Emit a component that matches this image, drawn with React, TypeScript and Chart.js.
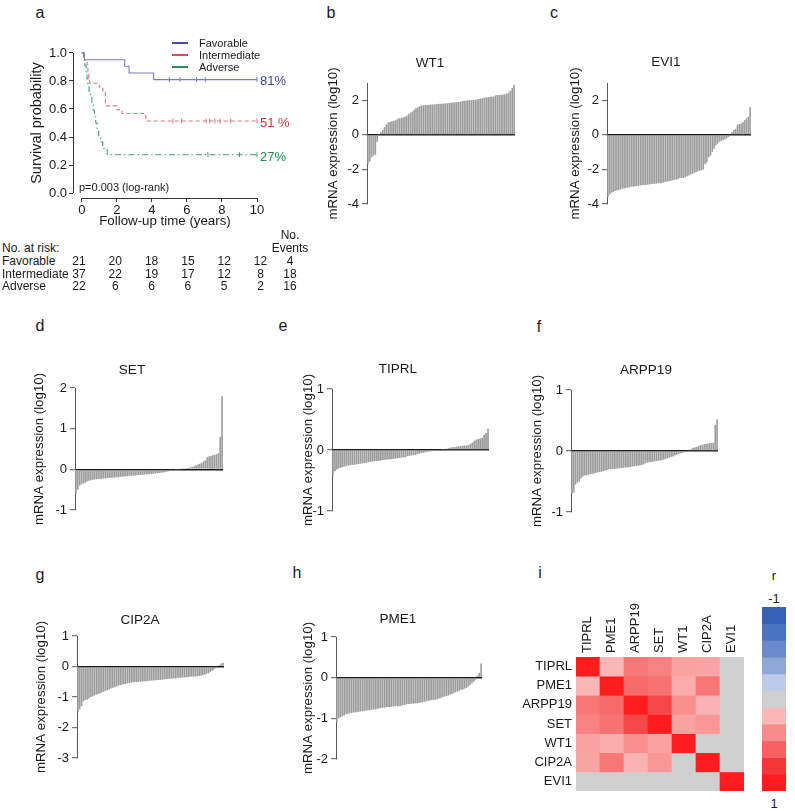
import React, { useEffect, useRef } from "react";
import { Chart, registerables } from "chart.js";
Chart.register(...registerables);

const FONT = "'Liberation Sans', Arial, Helvetica, sans-serif";

// ---------------- Panel a: Kaplan-Meier ----------------
const kmGroups = ["Favorable", "Intermediate", "Adverse"];
const favTimes = [0, 0.15, 2.45, 2.7, 4.1, 10];
const favSurv = [1, 0.952, 0.905, 0.857, 0.81, 0.81];
const favCensor = [5.0, 5.6, 6.55, 7.05, 10];
const intTimes = [0, 0.15, 0.3, 0.35, 0.4, 0.45, 1.0, 1.2, 1.35, 2.0, 2.3, 3.65, 10];
const intSurv = [1, 0.946, 0.919, 0.865, 0.811, 0.784, 0.757, 0.73, 0.622, 0.595, 0.568, 0.514, 0.514];
const intCensor = [5.2, 5.7, 7.1, 7.3, 7.6, 7.9, 8.5, 10];
const advTimes = [0, 0.1, 0.18, 0.25, 0.3, 0.35, 0.42, 0.5, 0.58, 0.65, 0.72, 0.8, 0.88, 0.97, 1.08, 1.2, 1.45, 10];
const advSurv = [1, 0.955, 0.909, 0.864, 0.818, 0.773, 0.727, 0.682, 0.636, 0.591, 0.545, 0.5, 0.455, 0.409, 0.364, 0.318, 0.273, 0.273];
const advCensor = [7.2, 9.0, 10];
const kmPercents = ["81%", "51 %", "27%"];
const kmYears = [0, 2, 4, 6, 8, 10];
const kmYTicks = [0, 0.2, 0.4, 0.6, 0.8, 1.0];
const atRiskFav = [21, 20, 18, 15, 12, 12];
const atRiskInt = [37, 22, 19, 17, 12, 8];
const atRiskAdv = [22, 6, 6, 6, 5, 2];
const eventsN = [4, 18, 16];

// ---------------- Panels b-h: sorted expression ----------------
const wt1Values = [
  -1.7, -1.55, -1.3, -1.2, -1.15, -0.4,
  0.05, 0.15, 0.3, 0.45, 0.6, 0.72,
  0.75, 0.78, 0.8, 0.85, 0.93, 0.96, 0.98, 1.0,
  1.05, 1.1, 1.2, 1.28, 1.35, 1.45, 1.55, 1.6, 1.65, 1.7,
  1.71, 1.72, 1.73, 1.74, 1.75, 1.76, 1.77, 1.78, 1.79, 1.8,
  1.8, 1.81, 1.82, 1.83, 1.85, 1.86, 1.87, 1.88, 1.89, 1.9,
  1.92, 1.95, 1.97, 1.98, 2.0, 2.0, 2.01, 2.02, 2.03, 2.05,
  2.07, 2.1, 2.12, 2.15, 2.17, 2.18, 2.2, 2.2, 2.22, 2.28,
  2.3, 2.31, 2.32, 2.33, 2.35, 2.38, 2.45, 2.55, 2.7, 2.9,
];
const evi1Values = [
  -3.6, -3.45, -3.35, -3.3, -3.25, -3.22, -3.2, -3.15, -3.12, -3.1,
  -3.08, -3.05, -3.03, -3.0, -3.0, -2.98, -2.97, -2.95, -2.93, -2.92,
  -2.9, -2.9, -2.88, -2.87, -2.85, -2.85, -2.83, -2.82, -2.8, -2.8,
  -2.78, -2.75, -2.72, -2.7, -2.68, -2.65, -2.62, -2.6, -2.58, -2.55,
  -2.5, -2.5, -2.48, -2.45, -2.4, -2.35, -2.3, -2.25, -2.2, -2.15,
  -2.1, -2.08, -2.05, -2.0, -1.7, -1.6, -1.3, -1.2, -1.0, -0.8,
  -0.6, -0.5, -0.4, -0.35, -0.3, -0.25, -0.2, -0.12, -0.05, 0.15,
  0.3, 0.35, 0.6, 0.62, 0.65, 0.75, 0.85, 0.95, 1.05, 1.6,
];
const setValues = [
  -0.6, -0.5, -0.4, -0.37, -0.35, -0.33, -0.3, -0.28, -0.27, -0.26,
  -0.25, -0.245, -0.24, -0.235, -0.23, -0.225, -0.22, -0.215, -0.21, -0.205,
  -0.2, -0.2, -0.195, -0.19, -0.185, -0.18, -0.175, -0.17, -0.165, -0.16,
  -0.16, -0.155, -0.15, -0.145, -0.14, -0.135, -0.13, -0.13, -0.125, -0.12,
  -0.115, -0.11, -0.105, -0.1, -0.095, -0.09, -0.085, -0.08, -0.07, -0.06,
  -0.05, -0.04, -0.03, -0.02, -0.01, -0.005, 0.0, 0.005, 0.01, 0.02,
  0.03, 0.04, 0.05, 0.06, 0.08, 0.1, 0.12, 0.14, 0.16, 0.2,
  0.22, 0.3, 0.32, 0.33, 0.35, 0.36, 0.37, 0.4, 0.8, 1.8,
];
const tiprlValues = [
  -0.42, -0.35, -0.32, -0.3, -0.29, -0.28, -0.27, -0.26, -0.255, -0.25,
  -0.245, -0.24, -0.235, -0.23, -0.225, -0.22, -0.215, -0.21, -0.2, -0.195,
  -0.19, -0.185, -0.18, -0.178, -0.175, -0.17, -0.165, -0.16, -0.155, -0.15,
  -0.15, -0.145, -0.14, -0.135, -0.13, -0.125, -0.12, -0.115, -0.1, -0.095,
  -0.09, -0.085, -0.08, -0.07, -0.06, -0.05, -0.045, -0.04, -0.03, -0.025,
  -0.02, -0.015, -0.01, -0.005, 0.0, 0.0, 0.005, 0.01, 0.02, 0.03,
  0.04, 0.045, 0.05, 0.055, 0.06, 0.065, 0.07, 0.072, 0.075, 0.08,
  0.1, 0.12, 0.15, 0.17, 0.18, 0.19, 0.2, 0.25, 0.28, 0.35,
];
const arpp19Values = [
  -0.7, -0.68, -0.55, -0.52, -0.5, -0.45, -0.42, -0.4, -0.4, -0.39,
  -0.38, -0.375, -0.37, -0.36, -0.35, -0.345, -0.34, -0.33, -0.32, -0.31,
  -0.3, -0.3, -0.295, -0.29, -0.29, -0.285, -0.28, -0.28, -0.275, -0.27,
  -0.27, -0.265, -0.26, -0.255, -0.25, -0.245, -0.24, -0.235, -0.23, -0.22,
  -0.2, -0.19, -0.185, -0.18, -0.175, -0.17, -0.165, -0.16, -0.155, -0.15,
  -0.14, -0.13, -0.12, -0.11, -0.1, -0.09, -0.07, -0.06, -0.05, -0.04,
  -0.03, -0.02, -0.01, 0.0, 0.02, 0.03, 0.05, 0.06, 0.07, 0.08,
  0.1, 0.1, 0.11, 0.12, 0.12, 0.13, 0.13, 0.14, 0.43, 0.52,
];
const cip2aValues = [
  -1.5, -1.4, -1.3, -1.15, -1.1, -1.08, -1.05, -1.0, -0.98, -0.95,
  -0.92, -0.9, -0.88, -0.85, -0.83, -0.8, -0.78, -0.75, -0.72, -0.7,
  -0.68, -0.66, -0.63, -0.61, -0.6, -0.58, -0.57, -0.55, -0.54, -0.53,
  -0.52, -0.51, -0.51, -0.5, -0.5, -0.49, -0.49, -0.48, -0.48, -0.47,
  -0.46, -0.46, -0.45, -0.45, -0.44, -0.44, -0.43, -0.42, -0.42, -0.41,
  -0.4, -0.4, -0.39, -0.39, -0.38, -0.37, -0.37, -0.36, -0.36, -0.35,
  -0.35, -0.34, -0.34, -0.33, -0.33, -0.32, -0.31, -0.3, -0.28, -0.26,
  -0.24, -0.22, -0.18, -0.14, -0.1, -0.06, -0.03, 0.05, 0.1, 0.12,
];
const pme1Values = [
  -1.1, -1.0, -0.97, -0.95, -0.93, -0.9, -0.89, -0.88, -0.87, -0.86,
  -0.85, -0.85, -0.84, -0.83, -0.83, -0.82, -0.81, -0.8, -0.8, -0.79,
  -0.78, -0.78, -0.77, -0.76, -0.75, -0.74, -0.74, -0.73, -0.72, -0.72,
  -0.71, -0.71, -0.7, -0.7, -0.7, -0.69, -0.68, -0.67, -0.66, -0.65,
  -0.65, -0.64, -0.64, -0.63, -0.63, -0.62, -0.61, -0.6, -0.59, -0.58,
  -0.57, -0.56, -0.55, -0.55, -0.54, -0.53, -0.51, -0.5, -0.48, -0.46,
  -0.45, -0.44, -0.42, -0.4, -0.38, -0.36, -0.34, -0.32, -0.3, -0.29,
  -0.27, -0.25, -0.22, -0.18, -0.14, -0.1, -0.05, 0.05, 0.12, 0.35,
];

// ---------------- Panel i: correlation matrix ----------------
const corrGenes = ["TIPRL", "PME1", "ARPP19", "SET", "WT1", "CIP2A", "EVI1"];
const corrTIPRL = [1, 0.2, 0.5, 0.45, 0.3, 0.28, null];
const corrPME1 = [0.2, 1, 0.55, 0.52, 0.25, 0.5, null];
const corrARPP19 = [0.5, 0.55, 1, 0.72, 0.38, 0.22, null];
const corrSET = [0.45, 0.52, 0.72, 1, 0.3, 0.35, null];
const corrWT1 = [0.3, 0.25, 0.38, 0.3, 1, null, null];
const corrCIP2A = [0.28, 0.5, 0.22, 0.35, null, 1, null];
const corrEVI1 = [null, null, null, null, null, null, 1];
const corrRows = [corrTIPRL, corrPME1, corrARPP19, corrSET, corrWT1, corrCIP2A, corrEVI1];
const colorbarLevels = [-1, -0.8, -0.6, -0.4, -0.2, 0, 0.2, 0.4, 0.6, 0.8, 1];

// ---------------- styles ----------------
const PALETTE = ["#3562b6", "#4a73c0", "#6a89cc", "#8fa6d9", "#bdcaea", "#cfcfcf", "#fbb6b6", "#f88c8c", "#f66060", "#f43636", "#ff1c1c"];
const KM_LINE = ["#7c7cc2", "#ec6f80", "#3a9f78"];
const KM_TEXT = ["#3d3da0", "#e0303f", "#1e8a55"];
const KM_LEG = ["#4848a8", "#e5475a", "#2a8f5f"];
const BAR_COLOR = "#9c9c9c";
const TXT = "#1a1a1a";

function hexRgb(h: string) {
  const n = parseInt(h.slice(1), 16);
  return [(n >> 16) & 255, (n >> 8) & 255, n & 255];
}
function corrColor(v: number | null) {
  if (v === null || v === undefined) return PALETTE[5];
  const p = ((v + 1) / 2) * (PALETTE.length - 1);
  const i = Math.floor(p);
  const j = Math.min(i + 1, PALETTE.length - 1);
  const f = p - i;
  const a = hexRgb(PALETTE[i]);
  const b = hexRgb(PALETTE[j]);
  const m = a.map((x, k) => Math.round(x + (b[k] - x) * f));
  return `rgb(${m[0]},${m[1]},${m[2]})`;
}

const rAxes = {
  id: "rAxes",
  afterDraw(chart: any) {
    const { ctx, chartArea, scales } = chart;
    const x = scales.x;
    const y = scales.y;
    ctx.save();
    ctx.strokeStyle = "#333";
    ctx.lineWidth = 1;
    ctx.beginPath();
    const lx = Math.round(chartArea.left) + 0.5;
    ctx.moveTo(lx, y.getPixelForValue(kmYTicks[kmYTicks.length - 1]));
    ctx.lineTo(lx, y.getPixelForValue(kmYTicks[0]));
    const by = Math.round(chartArea.bottom) + 0.5;
    ctx.moveTo(x.getPixelForValue(kmYears[0]), by);
    ctx.lineTo(x.getPixelForValue(kmYears[kmYears.length - 1]), by);
    ctx.stroke();
    ctx.restore();
  },
};

function kmMake() {
  const line = (times: number[], surv: number[], color: string, dash: number[]) => ({
    type: "line",
    data: times.map((t, i) => ({ x: t, y: surv[i] })),
    borderColor: color,
    borderWidth: 1.1,
    borderDash: dash,
    stepped: "before",
    pointRadius: 0,
    fill: false,
    clip: false,
  });
  const cens = (times: number[], surv: number[], color: string) => ({
    type: "scatter",
    data: times.map((t) => ({ x: t, y: surv[surv.length - 1] })),
    pointStyle: "line",
    pointRadius: 2.5,
    pointRotation: 90,
    pointBorderColor: color,
    pointBorderWidth: 1,
    borderColor: color,
    backgroundColor: color,
    showLine: false,
    clip: false,
  });
  const font = { family: FONT, size: 13 };
  return {
    type: "line",
    data: {
      datasets: [
        line(favTimes, favSurv, KM_LINE[0], []),
        cens(favCensor, favSurv, KM_LINE[0]),
        line(intTimes, intSurv, KM_LINE[1], [4, 3]),
        cens(intCensor, intSurv, KM_LINE[1]),
        line(advTimes, advSurv, KM_LINE[2], [6, 3, 1.5, 3]),
        cens(advCensor, advSurv, KM_LINE[2]),
      ],
    },
    options: {
      responsive: false,
      animation: false,
      devicePixelRatio: 1,
      layout: { padding: { left: 24, top: 18, right: 43, bottom: 0 } },
      plugins: { legend: { display: false }, tooltip: { enabled: false } },
      scales: {
        x: {
          type: "linear",
          min: -0.5,
          max: 10,
          afterBuildTicks: (s: any) => {
            s.ticks = kmYears.map((v) => ({ value: v }));
          },
          ticks: { font, color: TXT, padding: 1, maxRotation: 0 },
          grid: { drawOnChartArea: false, tickLength: 4, color: "#333" },
          border: { display: false },
          title: { display: true, text: "Follow-up time (years)", font: { family: FONT, size: 13.3 }, color: TXT, padding: { top: 2, bottom: 4 } },
          afterFit: (s: any) => {
            s.height = 35;
          },
        },
        y: {
          type: "linear",
          min: -0.0357,
          max: 1.0357,
          afterBuildTicks: (s: any) => {
            s.ticks = kmYTicks.map((v) => ({ value: v }));
          },
          ticks: { font, color: TXT, padding: 2, callback: (v: any) => Number(v).toFixed(1) },
          grid: { drawOnChartArea: false, tickLength: 4, color: "#333" },
          border: { display: false },
          title: { display: true, text: "Survival probability", font: { family: FONT, size: 14.5 }, color: TXT },
          afterFit: (s: any) => {
            s.width = 49;
          },
        },
      },
    },
    plugins: [rAxes],
  };
}

type Area = { l: number; t: number; r: number; b: number };

function barMake(values: number[], min: number, max: number, area: Area, cl: number, ct: number, w: number, h: number) {
  return () => ({
    type: "bar",
    data: {
      labels: values.map((_, i) => String(i + 1)),
      datasets: [{ data: values, backgroundColor: BAR_COLOR, borderWidth: 0, barPercentage: 1, categoryPercentage: 0.88 }],
    },
    options: {
      responsive: false,
      animation: false,
      devicePixelRatio: 1,
      layout: { padding: { left: 0, top: area.t - ct, right: cl + w - area.r, bottom: ct + h - area.b } },
      plugins: { legend: { display: false }, tooltip: { enabled: false } },
      scales: {
        x: { display: false },
        y: {
          min,
          max,
          ticks: { stepSize: 1, font: { family: FONT, size: 13 }, color: TXT, padding: 3 },
          grid: {
            color: (c: any) => (c.tick && c.tick.value === 0 ? "#1a1a1a" : "rgba(0,0,0,0)"),
            lineWidth: 1.4,
            tickColor: "#555",
            tickWidth: 1,
            tickLength: 5,
          },
          border: { color: "#555", width: 1 },
          title: { display: true, text: "mRNA expression (log10)", font: { family: FONT, size: 13.3 }, color: TXT },
          afterFit: (s: any) => {
            s.width = area.l - cl;
          },
          z: 1,
        },
      },
    },
  });
}

const HEAT_LEFT = 505;
const HEAT_TOP = 590;

function heatMake() {
  return {
    type: "bar",
    data: {
      labels: corrGenes,
      datasets: corrRows.map((row, r) => ({
        label: corrGenes[r],
        data: corrGenes.map(() => [r, r + 1]),
        backgroundColor: row.map((v) => corrColor(v)),
        borderWidth: 0,
        barPercentage: 1,
        categoryPercentage: 1,
      })),
    },
    options: {
      responsive: false,
      animation: false,
      devicePixelRatio: 1,
      layout: { padding: { left: 0, top: 0, right: 6, bottom: 12 } },
      plugins: { legend: { display: false }, tooltip: { enabled: false } },
      scales: {
        x: {
          position: "top",
          stacked: true,
          grid: { display: false, drawTicks: false, tickLength: 0 },
          border: { display: false },
          ticks: { minRotation: 90, maxRotation: 90, autoSkip: false, font: { family: FONT, size: 13 }, color: TXT, padding: 4, labelOffset: 15 },
          afterFit: (s: any) => {
            s.height = 657 - HEAT_TOP;
          },
        },
        y: {
          type: "linear",
          min: 0,
          max: corrGenes.length,
          reverse: true,
          afterBuildTicks: (s: any) => {
            s.ticks = corrGenes.map((_, i) => ({ value: i + 0.5 }));
          },
          ticks: { autoSkip: false, font: { family: FONT, size: 13 }, color: TXT, padding: 4, callback: (_v: any, i: number) => corrGenes[i] },
          grid: { display: false, drawTicks: false, tickLength: 0 },
          border: { display: false },
          afterFit: (s: any) => {
            s.width = 576 - HEAT_LEFT;
          },
        },
      },
    },
  };
}

function cbarMake() {
  return {
    type: "bar",
    data: {
      labels: ["r"],
      datasets: colorbarLevels.map((lv, k) => ({
        data: [[k, k + 1]],
        backgroundColor: corrColor(lv),
        borderWidth: 0,
        barPercentage: 1,
        categoryPercentage: 1,
      })),
    },
    options: {
      responsive: false,
      animation: false,
      devicePixelRatio: 1,
      layout: { padding: 0 },
      plugins: { legend: { display: false }, tooltip: { enabled: false } },
      scales: {
        x: { display: false, stacked: true },
        y: { display: false, min: 0, max: colorbarLevels.length, reverse: true },
      },
    },
  };
}

function ChartCanvas({ left, top, width, height, make }: any) {
  const ref = useRef<HTMLCanvasElement | null>(null);
  useEffect(() => {
    const chart = new Chart(ref.current as HTMLCanvasElement, make() as any);
    return () => chart.destroy();
  }, []);
  return <canvas ref={ref} width={width} height={height} style={{ position: "absolute", left, top, width, height }} />;
}

function Txt({ x, y, s = 13, c = TXT, a = "left", children }: any) {
  const tx = a === "center" ? "-50%" : a === "right" ? "-100%" : "0";
  return (
    <div
      style={{
        position: "absolute",
        left: x,
        top: y,
        transform: `translate(${tx}, -50%)`,
        fontSize: s,
        color: c,
        lineHeight: 1,
        whiteSpace: "nowrap",
        fontFamily: FONT,
      }}
    >
      {children}
    </div>
  );
}

const barPanels = [
  { gene: "WT1", values: wt1Values, min: -4, max: 3, titleX: 333, area: { l: 367, t: 83, r: 515, b: 204 }, gx: 430, gy: 63 },
  { gene: "EVI1", values: evi1Values, min: -4, max: 3, titleX: 575, area: { l: 607, t: 83, r: 751, b: 204 }, gx: 666, gy: 62 },
  { gene: "SET", values: setValues, min: -1, max: 2, titleX: 39, area: { l: 75, t: 388, r: 223, b: 510 }, gx: 132, gy: 370 },
  { gene: "TIPRL", values: tiprlValues, min: -1, max: 1, titleX: 308, area: { l: 332, t: 389, r: 489, b: 511 }, gx: 398, gy: 369 },
  { gene: "ARPP19", values: arpp19Values, min: -1, max: 1, titleX: 537, area: { l: 571, t: 390, r: 718, b: 512 }, gx: 646, gy: 370 },
  { gene: "CIP2A", values: cip2aValues, min: -3, max: 1, titleX: 41, area: { l: 77, t: 636, r: 224, b: 758 }, gx: 140, gy: 620 },
  { gene: "PME1", values: pme1Values, min: -2, max: 1, titleX: 308, area: { l: 336, t: 637, r: 482, b: 759 }, gx: 398, gy: 619 },
];

const letters = [
  ["a", 40, 13], ["b", 331, 13], ["c", 554, 13], ["d", 40, 326], ["e", 283, 326],
  ["f", 539, 327], ["g", 40, 575], ["h", 297, 573], ["i", 540, 573],
];

export default function App() {
  const riskRows = [atRiskFav, atRiskInt, atRiskAdv];
  const rowY = [261, 273.5, 286];
  const pctY = [80, 122, 156];
  const legY = [43, 55, 67];
  return (
    <div style={{ position: "absolute", left: 0, top: 0, width: 795, height: 811, background: "#fff", fontFamily: FONT, overflow: "hidden" }}>
      {letters.map(([t, x, y]) => (
        <Txt key={t as string} x={x} y={y} s={16} a="center">{t}</Txt>
      ))}

      {/* Panel a */}
      <ChartCanvas left={0} top={30} width={300} height={203} make={kmMake} />
      {kmGroups.map((g, i) => (
        <React.Fragment key={g}>
          <div style={{ position: "absolute", left: 172, top: legY[i] - 1, width: 16, height: 2, background: KM_LEG[i] }} />
          <Txt x={199} y={legY[i]} s={11}>{g}</Txt>
          <Txt x={260} y={pctY[i]} s={13} c={KM_TEXT[i]}>{kmPercents[i]}</Txt>
        </React.Fragment>
      ))}
      <Txt x={79} y={187} s={11}>p=0.003 (log-rank)</Txt>
      <Txt x={2} y={248} s={12}>No. at risk:</Txt>
      <Txt x={290} y={235} s={12} a="center">No.</Txt>
      <Txt x={290} y={248} s={12} a="center">Events</Txt>
      {kmGroups.map((g, i) => (
        <React.Fragment key={"r" + g}>
          <Txt x={2} y={rowY[i]} s={12}>{g}</Txt>
          {riskRows[i].map((n, k) => (
            <Txt key={k} x={79 + 36.3 * k} y={rowY[i]} s={12} a="center">{n}</Txt>
          ))}
          <Txt x={290} y={rowY[i]} s={12} a="center">{eventsN[i]}</Txt>
        </React.Fragment>
      ))}

      {/* Panels b-h */}
      {barPanels.map((p) => {
        const cl = p.titleX - 12;
        const ct = p.area.t - 32;
        const w = p.area.r - cl + 4;
        const h = p.area.b - p.area.t + 64;
        return (
          <React.Fragment key={p.gene}>
            <ChartCanvas left={cl} top={ct} width={w} height={h} make={barMake(p.values, p.min, p.max, p.area, cl, ct, w, h)} />
            <Txt x={p.gx} y={p.gy} s={13.5} a="center">{p.gene}</Txt>
          </React.Fragment>
        );
      })}

      {/* Panel i */}
      <ChartCanvas left={HEAT_LEFT} top={HEAT_TOP} width={750 - HEAT_LEFT} height={213} make={heatMake} />
      <ChartCanvas left={762} top={607} width={24} height={184} make={cbarMake} />
      <Txt x={774} y={575} s={13} a="center">r</Txt>
      <Txt x={774} y={598} s={13} a="center">-1</Txt>
      <Txt x={774} y={803} s={13} a="center">1</Txt>
    </div>
  );
}
